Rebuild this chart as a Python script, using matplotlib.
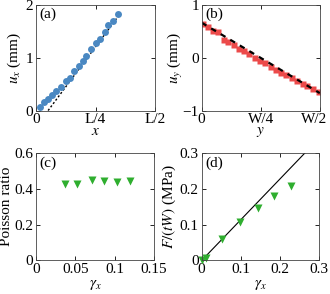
import matplotlib
matplotlib.use("Agg")
import matplotlib.pyplot as plt
import matplotlib.transforms as mtransforms
import numpy as np

plt.rcParams['font.family'] = ['Liberation Serif', 'DejaVu Serif']
plt.rcParams['mathtext.fontset'] = 'stix'

# (a) longitudinal displacement along x
ax_x = [0.017, 0.033, 0.051, 0.069, 0.086, 0.104, 0.125, 0.142, 0.160, 0.180,
        0.197, 0.211, 0.232, 0.253, 0.270, 0.288, 0.304, 0.322, 0.343]
ax_u = [0.076, 0.158, 0.220, 0.285, 0.370, 0.440, 0.556, 0.620, 0.746, 0.836,
        0.937, 1.026, 1.170, 1.280, 1.360, 1.490, 1.610, 1.700, 1.820]
fit_a_x = [0.051, 0.345]
fit_a_y = [0.0, 1.78]

# (b) transverse displacement along y
by_y = [0.005, 0.027, 0.050, 0.068, 0.095, 0.112, 0.135, 0.158, 0.178, 0.202,
        0.225, 0.248, 0.268, 0.292, 0.315, 0.338, 0.358, 0.382, 0.405, 0.428,
        0.448, 0.472, 0.495]
by_u = [0.63, 0.57, 0.51, 0.48, 0.34, 0.30, 0.23, 0.17, 0.12, 0.06,
        0.00, -0.06, -0.11, -0.17, -0.23, -0.29, -0.33, -0.39, -0.44, -0.50,
        -0.54, -0.60, -0.65]
fit_b_x = [0.0, 0.5]
fit_b_y = [0.66, -0.67]

# (c) Poisson ratio vs strain
c_gamma = [0.037, 0.0525, 0.071, 0.086, 0.103, 0.120]
c_nu = [0.425, 0.429, 0.451, 0.445, 0.440, 0.444]

# (d) stress vs strain
d_gamma = [0.0, 0.01, 0.053, 0.098, 0.143, 0.186, 0.228]
d_stress = [0.0, 0.008, 0.059, 0.106, 0.145, 0.180, 0.207]
fit_d_x = [0.0, 0.264]
fit_d_y = [0.0, 0.30]

blue = '#4a88c2'
red = '#ec4a4a'
green = '#2fae2f'

fig = plt.figure(figsize=(3.3, 2.94), dpi=100)
fig.patch.set_facecolor('white')

axa = fig.add_axes([0.109, 0.624, 0.361, 0.360])
axb = fig.add_axes([0.611, 0.624, 0.358, 0.360])
axc = fig.add_axes([0.109, 0.114, 0.358, 0.366])
axd = fig.add_axes([0.611, 0.114, 0.356, 0.366])

lab_fs = 11
tick_fs = 11

for ax in (axa, axb, axc, axd):
    ax.tick_params(direction='in', length=3, width=0.6, labelsize=tick_fs,
                   top=True, right=True, pad=2)
    for s in ax.spines.values():
        s.set_linewidth(0.6)
        s.set_color('#444444')

# (a)
axa.plot(fit_a_x, fit_a_y, color='black', ls=(0, (1.5, 1.5)), lw=1.0, zorder=1)
axa.plot(ax_x, ax_u, 'o', color=blue, ms=5.0, mec='none', zorder=2)
axa.set_xlim(0, 0.5)
axa.set_ylim(0, 2)
axa.set_xticks([0, 0.25, 0.5])
axa.set_xticklabels(['0', 'L/4', 'L/2'])
axa.set_yticks([0, 1, 2])
axa.set_xlabel('$x$', fontsize=lab_fs, labelpad=-1)
axa.set_ylabel('$u_x$ (mm)', fontsize=lab_fs, labelpad=2)
axa.text(0.03, 0.97, '(a)', transform=axa.transAxes, ha='left', va='top', fontsize=11)

# (b)
axb.plot(by_y, by_u, 's', color=red, ms=4.6, mec='none', zorder=1)
axb.plot(fit_b_x, fit_b_y, color='black', ls=(0, (2.5, 2.5)), lw=1.6, zorder=2)
axb.set_xlim(0, 0.5)
axb.set_ylim(-1, 1)
axb.set_xticks([0, 0.25, 0.5])
axb.set_xticklabels(['0', 'W/4', 'W/2'])
axb.set_yticks([-1, 0, 1])
axb.set_xlabel('$y$', fontsize=lab_fs, labelpad=-1)
axb.set_ylabel('$u_y$ (mm)', fontsize=lab_fs, labelpad=-2)
axb.text(0.03, 0.97, '(b)', transform=axb.transAxes, ha='left', va='top', fontsize=11)
# keep the last tick label inside the figure
last = axb.get_xticklabels()[-1]
last.set_transform(last.get_transform() +
                   mtransforms.ScaledTranslation(-4 / 72, 0, fig.dpi_scale_trans))

# (c)
axc.plot(c_gamma, c_nu, 'v', color=green, ms=5.5, mec='none')
axc.set_xlim(0, 0.15)
axc.set_ylim(0, 0.6)
axc.set_xticks([0, 0.05, 0.1, 0.15])
axc.set_xticklabels(['0', '0.05', '0.1', '0.15'])
axc.set_yticks([0, 0.2, 0.4, 0.6])
axc.set_yticklabels(['0', '0.2', '0.4', '0.6'])
axc.set_xlabel(r'$\gamma_x$', fontsize=lab_fs, labelpad=1)
axc.set_ylabel('Poisson ratio', fontsize=lab_fs, labelpad=1)
axc.text(0.03, 0.97, '(c)', transform=axc.transAxes, ha='left', va='top', fontsize=11)

# (d)
axd.plot(fit_d_x, fit_d_y, color='black', lw=0.8, zorder=1)
axd.plot(d_gamma, d_stress, 'v', color=green, ms=5.5, mec='none', zorder=2, clip_on=False)
axd.set_xlim(0, 0.3)
axd.set_ylim(0, 0.3)
axd.set_xticks([0, 0.1, 0.2, 0.3])
axd.set_xticklabels(['0', '0.1', '0.2', '0.3'])
axd.set_yticks([0, 0.1, 0.2, 0.3])
axd.set_yticklabels(['0', '0.1', '0.2', '0.3'])
axd.set_xlabel(r'$\gamma_x$', fontsize=lab_fs, labelpad=1)
axd.set_ylabel('$F/(tW)$ (MPa)', fontsize=lab_fs, labelpad=1)
axd.text(0.03, 0.97, '(d)', transform=axd.transAxes, ha='left', va='top', fontsize=11)

fig.savefig('out.png', dpi=100, facecolor='white')
